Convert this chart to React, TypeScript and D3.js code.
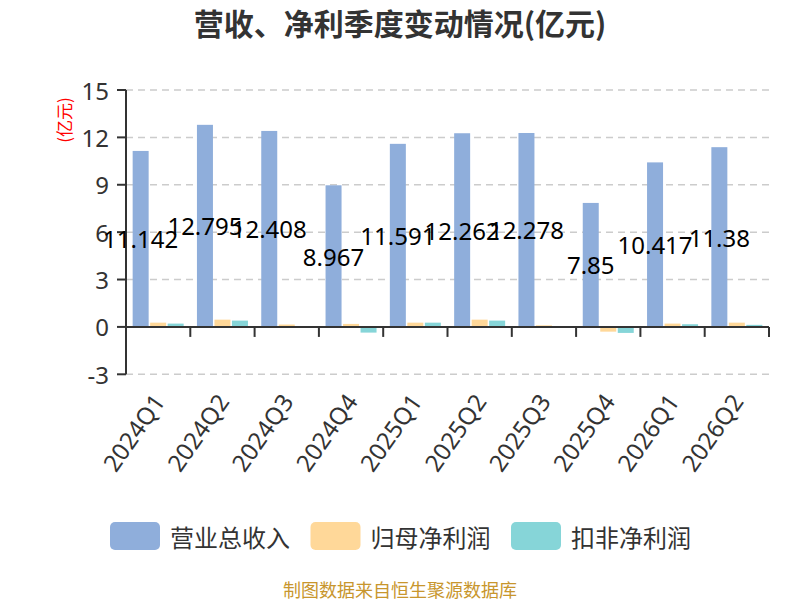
import * as d3 from 'd3'

// ─── Data ─────────────────────────────────────────────────────────────────────

const categories = ['2024Q1', '2024Q2', '2024Q3', '2024Q4', '2025Q1', '2025Q2', '2025Q3', '2025Q4', '2026Q1', '2026Q2']
const revenue = [11.142, 12.795, 12.408, 8.967, 11.591, 12.262, 12.278, 7.85, 10.417, 11.38]
const netProfit = [0.27, 0.46, 0.15, 0.19, 0.27, 0.46, 0.1, -0.3, 0.21, 0.27]
const deductedProfit = [0.21, 0.4, 0.02, -0.36, 0.27, 0.4, 0.04, -0.38, 0.17, 0.13]
const seriesNames = ['营业总收入', '归母净利润', '扣非净利润']
const yTicks = [-3, 0, 3, 6, 9, 12, 15]

// ─── Constants ────────────────────────────────────────────────────────────────

const W = 800
const H = 600
const COLORS = ['#8FAEDB', '#FFD899', '#86D5D8']
const FONT = "'Noto Sans', 'Noto Sans CJK SC', sans-serif"
const CJK = "'Noto Sans CJK SC', sans-serif"
const AXIS = '#333'

export default function App() {
  const series = [revenue, netProfit, deductedProfit]

  const x = d3.scaleBand<string>().domain(categories).range([126, 769]).padding(0)
  const xSub = d3.scaleBand<number>()
    .domain([0, 1, 2])
    .range([0, x.bandwidth()])
    .paddingInner(0.086)
    .paddingOuter(0.38)
  const y = d3.scaleLinear().domain([-3, 15]).range([374.3, 90])
  const y0 = y(0)
  const [xl, xr] = x.range()

  return (
    <div style={{ position: 'absolute', left: 0, top: 0 }}>
      <svg width={W} height={H} style={{ display: 'block', fontFamily: FONT }}>
        <rect width={W} height={H} fill="#fff" />

        {/* Title */}
        <text x={400} y={35} textAnchor="middle" fontSize={30} fontWeight="bold" fill="#333" fontFamily={CJK}>
          营收、净利季度变动情况(亿元)
        </text>

        {/* Y unit label */}
        <text transform="translate(63,120) rotate(-90)" textAnchor="middle" dominantBaseline="central"
          fontSize={17} fill="#f00" fontFamily={CJK}>
          (亿元)
        </text>

        {/* Gridlines */}
        {yTicks.filter((t) => t !== 0).map((t) => (
          <line key={t} x1={xl} x2={xr} y1={y(t)} y2={y(t)}
            stroke="#ccc" strokeWidth={1.5} strokeDasharray="7,5" />
        ))}

        {/* Bars */}
        {categories.map((c, i) => (
          <g key={c} transform={`translate(${x(c)},0)`}>
            {series.map((s, k) => {
              const v = s[i]
              return (
                <rect key={k}
                  x={xSub(k)} width={xSub.bandwidth()}
                  y={Math.min(y(v), y0)} height={Math.abs(y(v) - y0)}
                  fill={COLORS[k]} />
              )
            })}
          </g>
        ))}

        {/* Y axis */}
        <line x1={xl} x2={xl} y1={y(15)} y2={y(-3)} stroke={AXIS} strokeWidth={2} />
        {yTicks.map((t) => (
          <g key={t}>
            <line x1={xl - 9} x2={xl} y1={y(t)} y2={y(t)} stroke={AXIS} strokeWidth={2} />
            <text x={xl - 17} y={y(t)} textAnchor="end" dominantBaseline="central" fontSize={24} fill="#333">
              {t}
            </text>
          </g>
        ))}

        {/* X axis */}
        <line x1={xl} x2={xr} y1={y0} y2={y0} stroke={AXIS} strokeWidth={2} />
        {[...categories.map((c) => x(c) as number), xr].map((px, i) => (
          <line key={i} x1={px} x2={px} y1={y0} y2={y0 + 10} stroke={AXIS} strokeWidth={2} />
        ))}
        {categories.map((c) => (
          <text key={c}
            transform={`translate(${(x(c) as number) + x.bandwidth() / 2 + 1},397) rotate(-55)`}
            textAnchor="end" dy="0.35em" fontSize={24} fill="#333">
            {c}
          </text>
        ))}

        {/* Value labels */}
        {categories.map((c, i) => (
          <text key={c}
            x={(x(c) as number) + (xSub(0) as number) + xSub.bandwidth() / 2}
            y={(y(revenue[i]) + y0) / 2}
            textAnchor="middle" dominantBaseline="central" fontSize={24} fill="#000">
            {revenue[i]}
          </text>
        ))}

        {/* Legend */}
        {seriesNames.map((name, k) => (
          <g key={name} transform={`translate(${110 + k * 200.5},522)`}>
            <rect width={50} height={28} rx={5} fill={COLORS[k]} />
            <text x={60} y={14} dominantBaseline="central" fontSize={24} fill="#333" fontFamily={CJK}>
              {name}
            </text>
          </g>
        ))}

        {/* Footer */}
        <text x={400} y={589} textAnchor="middle" dominantBaseline="central" fontSize={18} fill="#C8962D"
          fontFamily={CJK}>
          制图数据来自恒生聚源数据库
        </text>
      </svg>
    </div>
  )
}
